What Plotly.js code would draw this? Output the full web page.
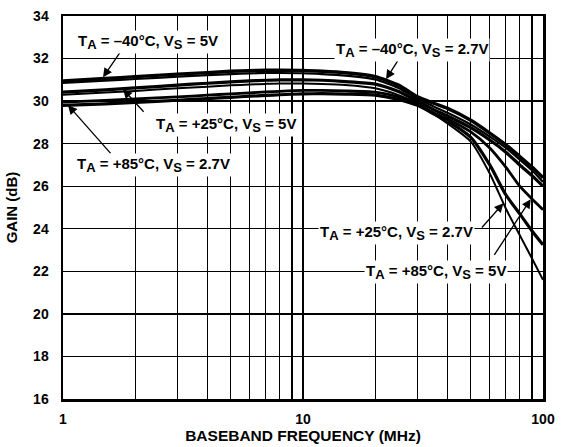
<!DOCTYPE html>
<html>
<head>
<meta charset="utf-8">
<script src="https://cdn.plot.ly/plotly-3.0.1.min.js"></script>
<style>html,body{margin:0;padding:0;background:#fff;}#chart{width:562px;height:447px;}</style>
</head>
<body>
<div id="chart"></div>
<script>
// Baseband frequency (MHz)
const freq = [1, 1.5, 2, 3, 4, 5, 6, 7, 8, 10, 12, 15, 20, 25, 30, 35, 40, 50, 60, 70, 80, 90, 100];

// Gain (dB) per condition
const gainM40_5V  = [30.95, 31.06, 31.15, 31.27, 31.34, 31.40, 31.43, 31.45, 31.45, 31.44, 31.40, 31.33, 31.15, 30.75, 30.20, 29.90, 29.66, 29.10, 28.50, 27.95, 27.40, 26.90, 26.40];
const gainM40_27V = [30.85, 30.96, 31.04, 31.15, 31.22, 31.27, 31.30, 31.32, 31.32, 31.31, 31.27, 31.20, 31.02, 30.62, 30.10, 29.75, 29.45, 28.90, 28.33, 27.80, 27.25, 26.75, 26.20];
const gainP25_5V  = [30.42, 30.53, 30.62, 30.75, 30.84, 30.90, 30.95, 30.98, 31.00, 31.00, 30.98, 30.92, 30.80, 30.45, 30.00, 29.60, 29.30, 28.75, 28.17, 27.60, 27.00, 26.50, 26.00];
const gainP25_27V = [30.30, 30.40, 30.48, 30.60, 30.68, 30.74, 30.78, 30.81, 30.83, 30.83, 30.81, 30.76, 30.60, 30.28, 29.90, 29.40, 28.95, 28.10, 26.60, 24.95, 23.70, 22.60, 21.60];
const gainP85_5V  = [29.95, 30.03, 30.10, 30.20, 30.28, 30.34, 30.39, 30.43, 30.46, 30.50, 30.50, 30.48, 30.42, 30.20, 29.85, 29.45, 29.16, 28.55, 27.80, 26.90, 26.00, 25.40, 24.90];
const gainP85_27V = [29.80, 29.87, 29.94, 30.04, 30.12, 30.18, 30.23, 30.27, 30.30, 30.34, 30.35, 30.33, 30.28, 30.08, 29.80, 29.40, 29.06, 28.30, 27.00, 25.60, 24.70, 23.90, 23.25];

const seriesNames = ['TA = -40°C, VS = 5V', 'TA = -40°C, VS = 2.7V', 'TA = +25°C, VS = 5V', 'TA = +25°C, VS = 2.7V', 'TA = +85°C, VS = 5V', 'TA = +85°C, VS = 2.7V'];
const seriesGain = [gainM40_5V, gainM40_27V, gainP25_5V, gainP25_27V, gainP85_5V, gainP85_27V];
const seriesWidth = [3.4, 2.2, 3.2, 2, 2.8, 3.2];

const xTickVals = [1, 10, 100];
const xTickText = ['1', '10', '100'];
const xMinorVals = [2, 3, 4, 5, 6, 7, 8, 9, 20, 30, 40, 50, 60, 70, 80, 90];
const yTickVals = [16, 18, 20, 22, 24, 26, 28, 30, 32, 34];

const FONT = 'Liberation Sans, Arial, Helvetica, sans-serif';

const traces = seriesGain.map((g, i) => ({
  x: freq, y: g, type: 'scatter', mode: 'lines', name: seriesNames[i],
  line: {color: '#000', width: seriesWidth[i], shape: 'spline', smoothing: 0.6},
  hoverinfo: 'skip'
}));

const SUB = s => '<sub><span style="font-size:13px">' + s + '</span></sub>';
const labelText = [
  'T' + SUB('A') + ' = –40°C, V' + SUB('S') + ' = 5V',
  'T' + SUB('A') + ' = +25°C, V' + SUB('S') + ' = 5V',
  'T' + SUB('A') + ' = +85°C, V' + SUB('S') + ' = 2.7V',
  'T' + SUB('A') + ' = –40°C, V' + SUB('S') + ' = 2.7V',
  'T' + SUB('A') + ' = +25°C, V' + SUB('S') + ' = 2.7V',
  'T' + SUB('A') + ' = +85°C, V' + SUB('S') + ' = 5V'
];
// placements (x in log10 units for the log axis)
const labelPos = [[0.354, 32.77], [0.679, 28.88], [0.377, 27.0], [1.456, 32.39], [1.3875, 23.81], [1.554, 21.98]];
const arrowTail = [[0.25, 32.49], [0.3417, 29.43], [0.204, 27.47], [1.404, 32.06], [1.740, 23.99], [1.793, 22.70]];
const arrowTip = [[0.1667, 31.12], [0.25, 30.56], [0.0208, 29.81], [1.346, 31.03], [1.835, 25.2], [1.949, 25.39]];

const annotations = [];
arrowTip.forEach((t, i) => {
  annotations.push({
    x: t[0], y: t[1], xref: 'x', yref: 'y',
    ax: arrowTail[i][0], ay: arrowTail[i][1], axref: 'x', ayref: 'y',
    text: '', showarrow: true, arrowhead: 2, arrowsize: 1.4, arrowwidth: 1.3, arrowcolor: '#000', standoff: 0
  });
});
labelText.forEach((t, i) => {
  annotations.push({
    x: labelPos[i][0], y: labelPos[i][1], xref: 'x', yref: 'y',
    text: t, showarrow: false, bgcolor: '#fff', borderpad: 1,
    font: {family: FONT, size: 15, color: '#000', weight: 'bold'}
  });
});

const layout = {
  width: 562, height: 447,
  margin: {l: 63, r: 19, t: 16, b: 48, pad: 0},
  paper_bgcolor: '#fff', plot_bgcolor: '#fff',
  showlegend: false,
  font: {family: FONT, color: '#000', size: 12, weight: 'bold'},
  xaxis: {
    type: 'log', range: [0, 2],
    tickmode: 'array', tickvals: xTickVals, ticktext: xTickText,
    ticks: '', showgrid: true, gridcolor: '#000', gridwidth: 1.3,
    showline: true, mirror: true, linecolor: '#000', linewidth: 2.5,
    zeroline: false, ticklabelstandoff: 6,
    tickfont: {family: FONT, size: 14, color: '#000', weight: 'bold'},
    minor: {tickmode: 'array', tickvals: xMinorVals, showgrid: true, gridcolor: '#000', gridwidth: 1.3, ticks: ''},
    title: {text: 'BASEBAND FREQUENCY (MHz)', standoff: 3, font: {family: FONT, size: 15.5, color: '#000', weight: 'bold'}}
  },
  yaxis: {
    range: [16, 34], tickmode: 'array', tickvals: yTickVals,
    ticks: '', showgrid: true, gridcolor: '#000', gridwidth: 1.3,
    showline: true, mirror: true, linecolor: '#000', linewidth: 2.5,
    zeroline: false, ticklabelstandoff: 9,
    tickfont: {family: FONT, size: 14, color: '#000', weight: 'bold'},
    title: {text: 'GAIN (dB)', standoff: 12, font: {family: FONT, size: 15, color: '#000', weight: 'bold'}}
  },
  annotations: annotations
};

Plotly.newPlot('chart', traces, layout, {staticPlot: true, displayModeBar: false});
</script>
</body>
</html>
